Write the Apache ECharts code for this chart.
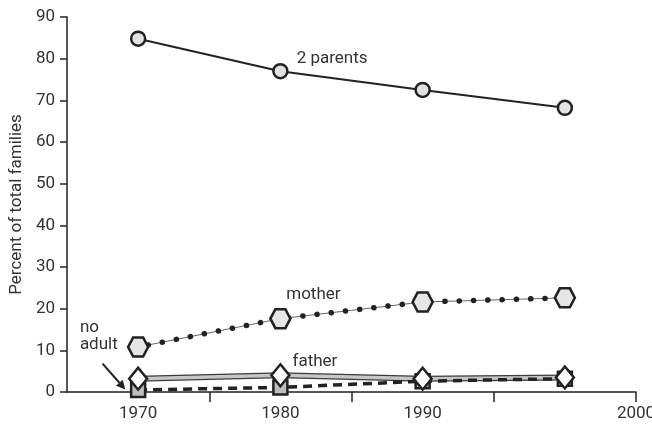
<!DOCTYPE html>
<html>
<head>
<meta charset="utf-8">
<script src="https://cdn.jsdelivr.net/npm/echarts@6/dist/echarts.min.js"></script>
<style>html,body{margin:0;padding:0;background:#fff}#c{width:652px;height:425px}</style>
</head>
<body>
<div id="c"></div>
<script>
// ---- data ----
const categories = ['1970', '1980', '1990', '1997'];
const xTickLabels = ['1970', '1980', '1990', '2000'];
const yTicks = [0, 10, 20, 30, 40, 50, 60, 70, 80, 90];
const twoParents = [84.8, 77, 72.5, 68.2];
const mother = [10.8, 17.6, 21.6, 22.6];
const father = [3.2, 4.0, 3.2, 3.5];
const noAdult = [0.5, 1.1, 2.6, 3.2];
const seriesLabels = ['2 parents', 'mother', 'father', 'no\nadult'];
const yAxisTitle = 'Percent of total families';

const FONT = 'Roboto, "DejaVu Sans", sans-serif';
const FS = 17;
const INK = '#222';
const TXT = '#333';
const hexagon = 'path://M0,50 L25,6 L75,6 L100,50 L75,94 L25,94 Z';

const chart = echarts.init(document.getElementById('c'), null, {renderer: 'canvas'});
const option = {
  backgroundColor: '#fff',
  animation: false,
  textStyle: {fontFamily: FONT},
  grid: {left: 67, right: 16, top: 17, bottom: 33, containLabel: false, outerBoundsMode: 'none'},
  xAxis: [
    {
      type: 'category', data: categories, boundaryGap: true,
      axisLine: {show: true, lineStyle: {color: INK, width: 1.5}},
      axisTick: {show: false},
      axisLabel: {
        color: TXT, fontSize: FS, fontFamily: FONT, margin: 13,
        formatter: v => (xTickLabels.indexOf(v) >= 0 ? v : '')
      },
      splitLine: {show: false}
    },
    {
      type: 'value', position: 'bottom', min: 0, max: 4, interval: 1,
      axisLine: {show: false},
      axisTick: {show: true, inside: false, length: 10, customValues: [1, 2, 3, 4],
        lineStyle: {color: INK, width: 1.5}},
      axisLabel: {
        show: true, color: TXT, fontSize: FS, fontFamily: FONT, margin: 13,
        customValues: [4], hideOverlap: false,
        formatter: v => (v === 4 ? xTickLabels[3] : '')
      },
      splitLine: {show: false}
    }
  ],
  yAxis: {
    type: 'value', min: yTicks[0], max: yTicks[yTicks.length - 1], interval: 10,
    name: yAxisTitle, nameLocation: 'middle', nameGap: 41, nameRotate: 90,
    nameTextStyle: {color: TXT, fontSize: FS, fontFamily: FONT},
    axisLine: {show: true, lineStyle: {color: INK, width: 1.5}},
    axisTick: {show: true, length: 7, lineStyle: {color: INK, width: 1.5}},
    axisLabel: {color: TXT, fontSize: FS, fontFamily: FONT, margin: 12},
    splitLine: {show: false}
  },
  series: [
    {
      name: '2 parents', type: 'line', data: twoParents, z: 5,
      lineStyle: {color: INK, width: 2},
      symbol: 'circle', symbolSize: 14,
      itemStyle: {color: '#e2e2e2', borderColor: INK, borderWidth: 2.5},
      label: {
        show: true, position: 'right', distance: 8, offset: [0, -12],
        color: TXT, fontSize: FS, fontFamily: FONT,
        formatter: p => (p.dataIndex === 1 ? seriesLabels[0] : '')
      }
    },
    {
      name: 'mother-thin', type: 'line', data: mother, z: 2, silent: true,
      lineStyle: {color: '#666', width: 1}, symbol: 'none'
    },
    {
      name: 'mother', type: 'line', data: mother, z: 5,
      lineStyle: {color: INK, width: 5.5, type: [0.1, 14.2], cap: 'round', dashOffset: 4},
      symbol: hexagon, symbolSize: [20, 19],
      itemStyle: {color: '#e6e6e6', borderColor: INK, borderWidth: 2.5},
      label: {
        show: true, position: 'top', distance: 5, offset: [33, 0],
        color: TXT, fontSize: FS, fontFamily: FONT,
        formatter: p => (p.dataIndex === 1 ? seriesLabels[1] : '')
      }
    },
    {
      name: 'father-outline', type: 'line', data: father, z: 3, silent: true,
      lineStyle: {color: '#3a3a3a', width: 6}, symbol: 'none'
    },
    {
      name: 'father-fill', type: 'line', data: father, z: 3, silent: true,
      lineStyle: {color: '#c6c6c6', width: 3.5}, symbol: 'none'
    },
    {
      name: 'no adult', type: 'line', data: noAdult, z: 4,
      lineStyle: {color: INK, width: 3.5, type: [9, 6]},
      symbol: 'rect', symbolSize: 14,
      itemStyle: {color: '#bdbdbd', borderColor: INK, borderWidth: 2.5},
      label: {
        show: true, position: [-50, -62], align: 'left', verticalAlign: 'top',
        lineHeight: 17, color: TXT, fontSize: FS, fontFamily: FONT,
        formatter: p => (p.dataIndex === 0 ? seriesLabels[3] : '')
      }
    },
    {
      name: 'father', type: 'line', data: father, z: 6,
      lineStyle: {width: 0, opacity: 0},
      symbol: 'diamond', symbolSize: [18, 22],
      itemStyle: {color: '#fff', borderColor: INK, borderWidth: 2.5},
      label: {
        show: true, position: 'right', distance: 2, offset: [0, -14],
        color: TXT, fontSize: FS, fontFamily: FONT,
        formatter: p => (p.dataIndex === 1 ? seriesLabels[2] : '')
      }
    }
  ]
};
chart.setOption(option);

// arrow annotation pointing at "no adult" 1970 marker
const a0 = chart.convertToPixel({xAxisIndex: 1, yAxisIndex: 0}, [0.25, 6.8]);
const a1 = chart.convertToPixel({xAxisIndex: 1, yAxisIndex: 0}, [0.41, 0.6]);
const ang = Math.atan2(a1[1] - a0[1], a1[0] - a0[0]);
const L = 9, W = 4.5;
const bx = a1[0] - L * Math.cos(ang), by = a1[1] - L * Math.sin(ang);
const px = -Math.sin(ang) * W, py = Math.cos(ang) * W;
chart.setOption({
  graphic: [
    {type: 'line', shape: {x1: a0[0], y1: a0[1], x2: bx, y2: by},
     style: {stroke: INK, lineWidth: 2}, z: 10},
    {type: 'polygon', shape: {points: [[a1[0], a1[1]], [bx + px, by + py], [bx - px, by - py]]},
     style: {fill: INK}, z: 10}
  ]
});
</script>
</body>
</html>
